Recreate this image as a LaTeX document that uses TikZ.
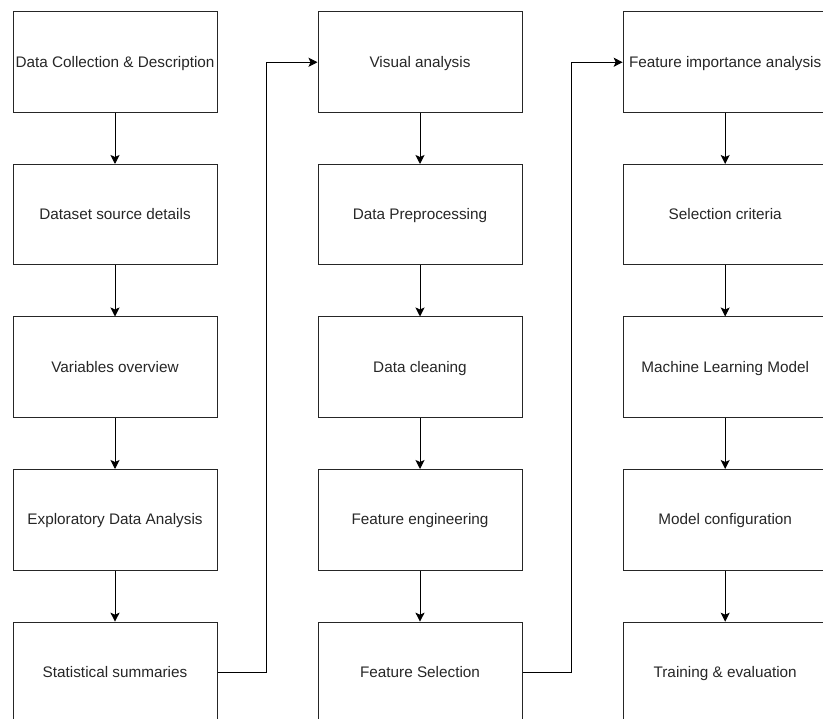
\documentclass[tikz,border=0pt]{standalone}
\usepackage{fontspec}
\setmainfont{Liberation Sans}
\usetikzlibrary{arrows.meta}
\begin{document}
\begin{tikzpicture}[x=1pt,y=-1pt,
  stepbox/.style={draw=black!85,line width=1pt,minimum width=204pt,minimum height=100.5pt,inner sep=0pt,anchor=north west,
    text height=12pt,text depth=2pt,
    text=black!85,font=\fontsize{15.3}{17}\selectfont},
  conn/.style={draw=black,line width=1pt,-{Stealth[length=9pt,width=9pt,inset=2pt]}}]
\useasboundingbox (0,0) rectangle (823,719);
\begin{scope}
\clip (0,0) rectangle (823,719);
% column 1
\node[stepbox] (a1) at (12.5,11.5) {Data Collection \& Description};
\node[stepbox] (a2) at (12.5,164) {Dataset source details};
\node[stepbox] (a3) at (12.5,316.5) {Variables overview};
\node[stepbox] (a4) at (12.5,469) {Exploratory Data Analysis};
\node[stepbox] (a5) at (12.5,621.7) {Statistical summaries};
% column 2
\node[stepbox] (b1) at (317.5,11.5) {Visual analysis};
\node[stepbox] (b2) at (317.5,164) {Data Preprocessing};
\node[stepbox] (b3) at (317.5,316.5) {Data cleaning};
\node[stepbox] (b4) at (317.5,469) {Feature engineering};
\node[stepbox] (b5) at (317.5,621.7) {Feature Selection};
% column 3
\node[stepbox] (c1) at (622.7,11.5) {Feature importance analysis};
\node[stepbox] (c2) at (622.7,164) {Selection criteria};
\node[stepbox] (c3) at (622.7,316.5) {Machine Learning Model};
\node[stepbox] (c4) at (622.7,469) {Model configuration};
\node[stepbox] (c5) at (622.7,621.7) {Training \& evaluation};
\end{scope}
% vertical arrows
\foreach \c in {a,b,c}{
  \draw[conn] (\c1) -- (\c2);
  \draw[conn] (\c2) -- (\c3);
  \draw[conn] (\c3) -- (\c4);
  \draw[conn] (\c4) -- (\c5);
}
% column transitions
\coordinate (k1) at (266.5,0);
\coordinate (k2) at (571.5,0);
\draw[conn] (a5.east) -| (k1 |- b1.west) -- (b1.west);
\draw[conn] (b5.east) -| (k2 |- c1.west) -- (c1.west);
\end{tikzpicture}
\end{document}
